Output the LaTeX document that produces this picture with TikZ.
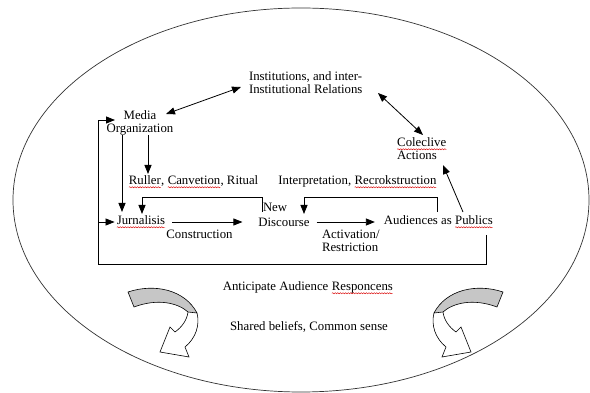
\documentclass[tikz,border=0pt]{standalone}
\usepackage{fontspec}
\setmainfont{Liberation Serif}
\usetikzlibrary{arrows.meta,decorations.pathmorphing,calc}
\newcommand{\sq}[1]{\tikz[baseline=(sqw.base)]{\node[inner sep=0pt,outer sep=0pt](sqw){#1};\draw[red!85!black,line width=0.45pt,decorate,decoration={snake,amplitude=0.55pt,segment length=2.6pt}]([yshift=-2.4pt]sqw.base west)--([yshift=-2.4pt]sqw.base east);}}
\newcommand{\curvedarrowshape}{%
  \filldraw[fill=white,line width=0.6pt] (197,313) .. controls (200,325) and (196,338) .. (185,347) -- (189,357) -- (160,352) -- (170,327) -- (175,332) .. controls (182,327) and (187,320) .. (188,312);
  \filldraw[fill=gray!45,line width=0.6pt] (128,292) .. controls (155,283) and (185,290) .. (197,313) -- (188,312) .. controls (178,303) and (158,298) .. (134,307) -- cycle;
}
\begin{document}
\begin{tikzpicture}[x=1pt,y=-1pt,
  font=\fontsize{12.8}{13}\selectfont,
  txt/.style={inner sep=0pt,outer sep=0pt,align=left},
  arr/.style={-{Triangle[length=9pt,width=7pt]},line width=0.8pt},
  darr/.style={{Triangle[length=9pt,width=7pt]}-{Triangle[length=9pt,width=7pt]},line width=0.8pt},
  boxline/.style={line width=0.8pt}]
\useasboundingbox (0,0) rectangle (590,393);
\draw[line width=0.7pt,black!80] (301,200) ellipse [x radius=288pt,y radius=192pt];

% texts
\node[txt,anchor=west] (inst) at (249,83) {Institutions, and inter-\\Institutional Relations};
\node[txt,align=center] (media) at (140,123) {Media\\Organization};
\node[txt,anchor=west] (cole) at (397,149) {\sq{Coleclive}\\Actions};
\node[txt] (rules) at (193.5,182) {\sq{Ruller}, \sq{Canvetion}, Ritual};
\node[txt] (interp) at (357.5,182) {Interpretation, \sq{Recrokstruction}};
\node[txt] (jurn) at (141,222) {\sq{Jurnalisis}};
\node[txt] (constr) at (199.5,234) {Construction};
\node[txt,anchor=west] (new) at (263,207) {New};
\node[txt] (disc) at (284,222) {Discourse};
\node[txt] (aud) at (438.5,222) {Audiences as \sq{Publics}};
\node[txt,anchor=west] (act) at (322,241) {Activation/\\Restriction};
\node[txt] (antic) at (308,288) {Anticipate Audience \sq{Responcens}};
\node[txt] (shared) at (309,327) {Shared beliefs, Common sense};

% connector end points
\coordinate (m1) at (166,114);
\coordinate (i1) at (241,87);
\coordinate (i2) at (378,93);
\coordinate (c1) at (423,135);
\coordinate (c2) at (443,165);
\coordinate (a1) at (463,212);

% double arrows
\draw[darr] (m1) -- (i1);
\draw[darr] (i2) -- (c1);
\draw[arr] (a1) -- (c2);

% media downwards
\draw[arr] (122,135) -- (122,212);
\draw[arr] (148,135) -- (148,174);

% main chain
\draw[arr] ($(jurn.east)+(7,0)$) -- ($(disc.west)+(-16,0)$);
\draw[arr] ($(disc.east)+(7,0)$) -- ($(aud.west)+(-9,0)$);

% feedback loops
\draw[arr] (262,212) |- (142,197) -- (142,214);
\draw[arr] (437,212) |- (304,197) -- (304,214);

% outer loop
\draw[arr] (486,235) |- (98,264) -- (98,120) -- (115,120);
\draw[arr] (98,222) -- ($(jurn.west)+(-2,0)$);

% curved block arrows
\curvedarrowshape
\begin{scope}[shift={(631,0)},xscale=-1]
\curvedarrowshape
\end{scope}
\end{tikzpicture}
\end{document}
